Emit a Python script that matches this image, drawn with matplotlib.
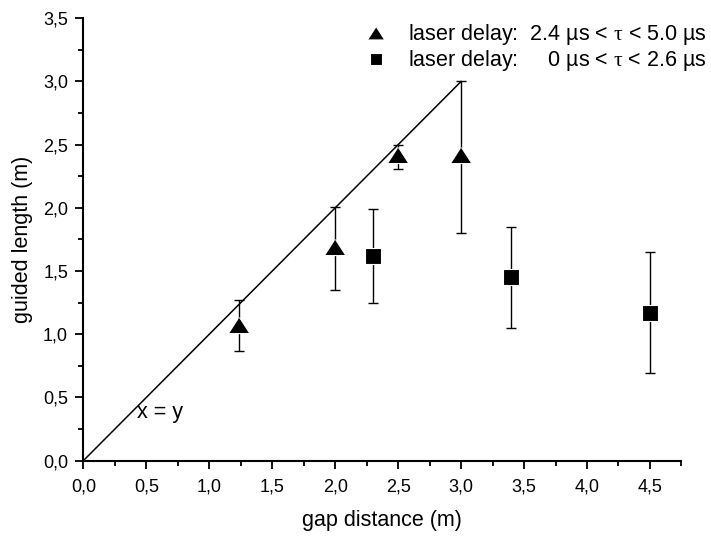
import matplotlib
matplotlib.use('Agg')
import matplotlib.pyplot as plt
from matplotlib.ticker import MultipleLocator, FuncFormatter

plt.rcParams['font.family'] = ['Liberation Sans', 'DejaVu Sans']
plt.rcParams['mathtext.fontset'] = 'custom'
plt.rcParams['mathtext.rm'] = 'Liberation Serif'
plt.rcParams['mathtext.it'] = 'Liberation Serif'

# laser delay 2.4 us < tau < 5.0 us (triangles)
tri_x = [1.24, 2.0, 2.5, 3.0]
tri_y = [1.07, 1.69, 2.42, 2.42]
tri_lo = [0.87, 1.35, 2.31, 1.80]
tri_hi = [1.27, 2.01, 2.50, 3.00]

# laser delay 0 us < tau < 2.6 us (squares)
sq_x = [2.3, 3.4, 4.5]
sq_y = [1.62, 1.45, 1.17]
sq_lo = [1.25, 1.05, 0.69]
sq_hi = [1.99, 1.85, 1.65]

line_x = [0.0, 3.0]
line_y = [0.0, 3.0]

fig = plt.figure(figsize=(7.11, 5.36), dpi=100)
ax = fig.add_axes([0.1172, 0.1405, 0.8412, 0.8254])

ax.plot(line_x, line_y, color='black', lw=1.1)
ax.text(0.43, 0.38, 'x = y', fontsize=15.5, va='center', ha='left')

tri_marker = [(-1, -0.775), (1, -0.775), (0, 0.775)]

ax.errorbar(tri_x, tri_y,
            yerr=[[y - l for y, l in zip(tri_y, tri_lo)], [h - y for y, h in zip(tri_y, tri_hi)]],
            fmt='none', ecolor='black', elinewidth=1.0, capsize=3.3, capthick=1.0)
ax.errorbar(sq_x, sq_y,
            yerr=[[y - l for y, l in zip(sq_y, sq_lo)], [h - y for y, h in zip(sq_y, sq_hi)]],
            fmt='none', ecolor='black', elinewidth=1.0, capsize=3.3, capthick=1.0)

h1, = ax.plot(tri_x, tri_y, linestyle='none', marker=tri_marker, ms=15,
              color='black', mec='white', mew=0.8)
h2, = ax.plot(sq_x, sq_y, linestyle='none', marker='s', ms=11.5,
              color='black', mec='white', mew=0.8)

leg = ax.legend([h1, h2],
                [r'laser delay:  2.4 µs < $\tau$ < 5.0 µs',
                 r'laser delay:     0 µs < $\tau$ < 2.6 µs'],
                loc='upper right', bbox_to_anchor=(1.075, 1.035), frameon=False,
                fontsize=15.5, handlelength=1.0, handletextpad=1.0,
                labelspacing=0.05, markerscale=0.8)

ax.set_xlim(0, 4.75)
ax.set_ylim(0, 3.5)
ax.xaxis.set_major_locator(MultipleLocator(0.5))
ax.xaxis.set_minor_locator(MultipleLocator(0.25))
ax.yaxis.set_major_locator(MultipleLocator(0.5))
ax.yaxis.set_minor_locator(MultipleLocator(0.25))
comma = FuncFormatter(lambda v, p: ('%.1f' % v).replace('.', ','))
ax.xaxis.set_major_formatter(comma)
ax.yaxis.set_major_formatter(comma)

ax.spines['top'].set_visible(False)
ax.spines['right'].set_visible(False)
for s in ['left', 'bottom']:
    ax.spines[s].set_linewidth(1.5)
ax.tick_params(which='major', direction='out', length=6, width=1.3, labelsize=13, pad=5)
ax.tick_params(which='minor', direction='out', length=3.5, width=1.3)
ax.tick_params(axis='x', which='major', pad=7)

ax.set_xlabel('gap distance (m)', fontsize=15.5, labelpad=10)
ax.set_ylabel('guided length (m)', fontsize=15.5, labelpad=7)

fig.savefig('out.png', dpi=100)
